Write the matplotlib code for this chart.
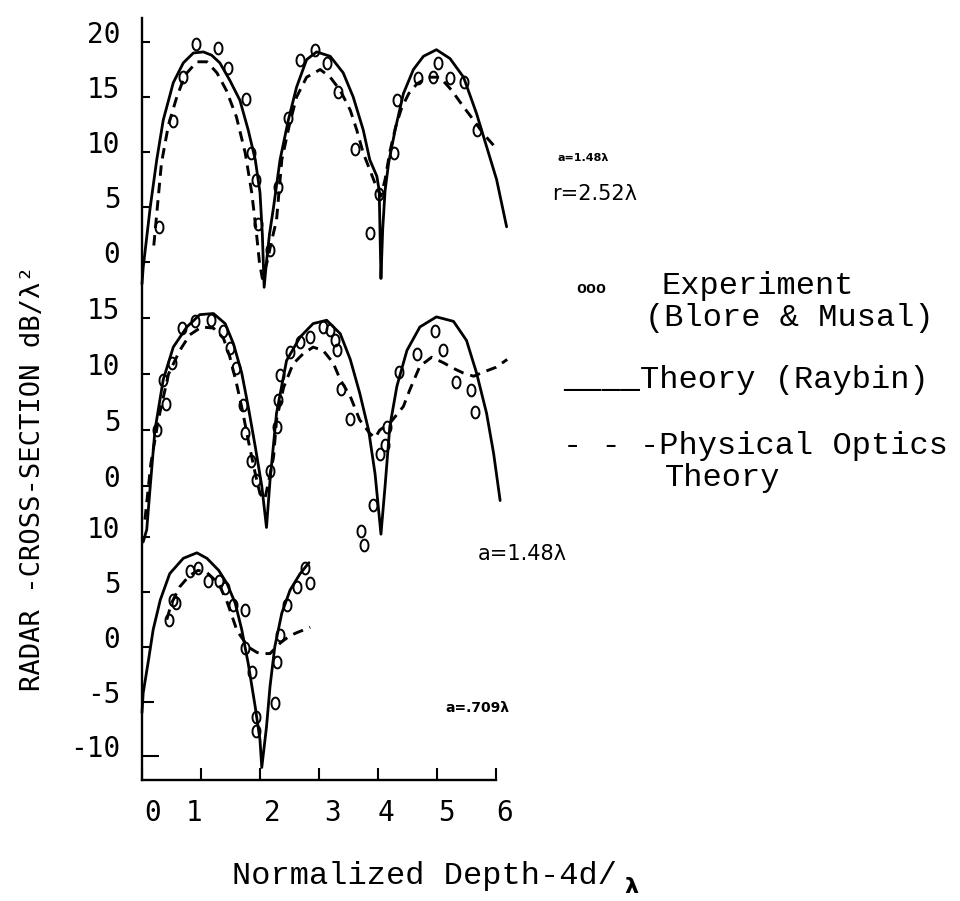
import numpy as np
import matplotlib.pyplot as plt
from matplotlib.path import Path
from matplotlib.transforms import ScaledTranslation

plt.rcParams['font.family'] = ['DejaVu Sans Mono']
plt.rcParams['axes.unicode_minus'] = False

# ================================================================
# Data: x = normalized depth 4d/lambda, y = RCS in dB/lambda^2
# ================================================================
# --- a = 1.48 lambda, r = 2.52 lambda (top) ---
top_theory_x = [0.00, 0.02, 0.14, 0.25, 0.36, 0.53, 0.70, 0.87, 1.04, 1.18, 1.32, 1.49,
                1.66, 1.80, 1.92, 2.00, 2.04, 2.07, 2.11, 2.16, 2.23, 2.34, 2.48, 2.62,
                2.79, 2.96, 3.19, 3.41, 3.58, 3.75, 3.86, 3.98, 4.02, 4.05, 4.08, 4.12,
                4.18, 4.29, 4.43, 4.60, 4.77, 4.99, 5.22, 5.45, 5.67, 5.84, 6.01, 6.18]
top_theory_y = [-2.0, -0.5, 5.0, 9.3, 12.9, 16.3, 18.1, 19.0, 19.1, 18.8, 18.1, 16.5,
                14.7, 12.0, 9.3, 6.3, 2.5, -2.3, 0.0, 2.5, 5.0, 9.3, 12.9, 15.9,
                18.4, 19.1, 18.7, 17.2, 15.0, 12.0, 9.3, 7.8, 6.5, -1.5, 3.0, 6.5,
                9.0, 12.0, 15.3, 17.5, 18.7, 19.3, 18.5, 16.8, 13.5, 10.5, 7.5, 3.2]
top_po_x = [0.20, 0.25, 0.33, 0.45, 0.59, 0.73, 0.93, 1.10, 1.27, 1.43, 1.60, 1.75,
            1.86, 1.94, 1.99, 2.04, 2.12, 2.20, 2.28, 2.37, 2.50, 2.62, 2.79, 3.02,
            3.19, 3.36, 3.53, 3.64, 3.75, 3.86, 3.96, 4.05, 4.12, 4.20, 4.30, 4.40,
            4.52, 4.66, 4.85, 5.05, 5.25, 5.45, 5.62, 5.78, 5.96]
top_po_y = [1.5, 4.4, 9.0, 12.5, 15.0, 17.0, 18.2, 18.2, 17.2, 15.6, 13.2, 9.9,
            6.3, 2.6, 0.0, -1.5, 0.0, 2.0, 3.8, 9.3, 12.5, 15.0, 16.8, 17.5,
            16.8, 15.6, 13.8, 12.0, 9.9, 8.4, 7.0, 6.0, 7.5, 10.0, 12.3, 14.0,
            15.3, 16.2, 16.8, 16.8, 15.6, 14.1, 12.9, 11.7, 10.6]
top_exp_x = [0.29, 0.53, 0.70, 0.91, 1.28, 1.46, 1.77, 1.84, 1.93, 1.97, 2.17, 2.31,
             2.47, 2.68, 2.93, 3.13, 3.33, 3.61, 3.86, 4.01, 4.27, 4.32, 4.68, 4.94,
             5.02, 5.22, 5.45, 5.67]
top_exp_y = [3.2, 12.8, 16.8, 19.8, 19.5, 17.6, 14.8, 9.9, 7.5, 3.5, 1.1, 6.8,
             13.1, 18.4, 19.3, 18.1, 15.5, 10.3, 2.6, 6.2, 9.9, 14.7, 16.7, 16.8,
             18.1, 16.7, 16.4, 12.0]

# --- a = 1.48 lambda (middle) ---
mid_theory_x = [0.02, 0.08, 0.14, 0.22, 0.36, 0.53, 0.76, 0.98, 1.21, 1.41, 1.55, 1.69,
                1.80, 1.92, 2.03, 2.11, 2.17, 2.28, 2.45, 2.68, 2.90, 3.13, 3.36, 3.53,
                3.69, 3.84, 3.95, 4.05, 4.12, 4.20, 4.32, 4.49, 4.71, 4.99, 5.28, 5.50,
                5.67, 5.84, 5.96, 6.07]
mid_theory_y = [-5.0, -3.9, 0.0, 5.0, 9.5, 12.4, 14.2, 15.3, 15.4, 14.5, 12.7, 10.1,
                7.1, 3.5, 0.0, -3.7, 0.5, 6.5, 11.2, 13.3, 14.5, 14.8, 13.6, 11.3,
                8.3, 5.0, 1.1, -4.3, 0.0, 5.3, 8.9, 12.1, 14.2, 15.1, 14.7, 13.0,
                10.1, 6.5, 2.9, -1.3]
mid_po_x = [0.05, 0.15, 0.28, 0.45, 0.64, 0.81, 1.01, 1.21, 1.38, 1.49, 1.60, 1.70,
            1.80, 1.92, 2.00, 2.08, 2.15, 2.23, 2.28, 2.40, 2.56, 2.73, 2.90, 3.07,
            3.24, 3.36, 3.53, 3.69, 3.86, 3.95, 4.03, 4.20, 4.43, 4.54, 4.71, 4.91,
            5.11, 5.28, 5.44, 5.62, 5.80, 6.00, 6.19]
mid_po_y = [-3.0, 2.0, 6.0, 10.0, 12.1, 13.5, 14.2, 14.1, 13.2, 11.5, 9.2, 6.8,
            4.1, 1.1, -0.7, -1.2, 0.5, 2.6, 5.9, 8.8, 10.9, 11.8, 12.4, 12.1,
            11.0, 9.5, 8.0, 5.9, 4.7, 4.3, 5.0, 5.6, 7.1, 8.6, 10.7, 11.5,
            11.0, 10.5, 10.1, 9.8, 10.2, 10.6, 11.3]
mid_exp_x = [0.25, 0.36, 0.41, 0.50, 0.67, 0.90, 1.17, 1.38, 1.49, 1.60, 1.72, 1.75,
             1.84, 1.94, 2.17, 2.28, 2.31, 2.34, 2.51, 2.68, 2.85, 3.07, 3.19, 3.27,
             3.30, 3.38, 3.53, 3.72, 3.76, 3.92, 4.03, 4.12, 4.15, 4.35, 4.66, 4.97,
             5.11, 5.33, 5.58, 5.64]
mid_exp_y = [5.0, 9.5, 7.3, 11.0, 14.1, 14.7, 14.8, 13.8, 12.3, 10.5, 7.2, 4.7,
             2.2, 0.5, 1.3, 5.3, 7.7, 9.9, 12.0, 12.9, 13.3, 14.2, 13.9, 13.0,
             12.1, 8.7, 6.0, -4.0, -5.3, -1.7, 2.9, 3.7, 5.3, 10.2, 11.8, 13.8,
             12.1, 9.3, 8.6, 6.6]

# --- a = .709 lambda (bottom) ---
bot_theory_x = [0.00, 0.02, 0.11, 0.19, 0.31, 0.47, 0.70, 0.93, 1.10, 1.30, 1.44, 1.58,
                1.69, 1.80, 1.92, 2.00, 2.03, 2.11, 2.17, 2.25, 2.37, 2.51, 2.68, 2.83]
bot_theory_y = [-6.0, -4.2, -1.2, 1.6, 4.3, 6.7, 8.1, 8.6, 8.1, 7.0, 5.8, 4.0,
                1.6, -1.5, -5.5, -8.5, -11.0, -7.3, -3.6, 0.0, 3.1, 5.2, 6.7, 7.7]
bot_po_x = [0.42, 0.50, 0.64, 0.80, 0.95, 1.10, 1.30, 1.45, 1.61, 1.80, 1.95, 2.03,
            2.17, 2.35, 2.50, 2.62, 2.85]
bot_po_y = [2.5, 4.0, 5.5, 6.5, 7.0, 6.8, 5.8, 4.0, 1.5, 0.0, -0.5, -0.6,
            -0.6, 0.4, 1.0, 1.3, 1.8]
bot_exp_x = [0.46, 0.53, 0.58, 0.81, 0.95, 1.12, 1.30, 1.41, 1.55, 1.75, 1.75, 1.86,
             1.94, 1.94, 2.25, 2.28, 2.34, 2.45, 2.62, 2.76, 2.85]
bot_exp_y = [2.5, 4.3, 4.0, 6.9, 7.2, 6.0, 6.0, 5.4, 3.8, 3.4, -0.1, -2.3,
             -6.4, -7.7, -5.1, -1.4, 1.1, 3.8, 5.5, 7.2, 5.8]

x_ticks = [0, 1, 2, 3, 4, 5, 6]
top_ticks = [0, 5, 10, 15, 20]
mid_ticks = [0, 5, 10, 15]
bot_ticks = [-10, -5, 0, 5, 10]

# ================================================================
# Layout (figure pixels, hand-drawn axis)
# ================================================================
W, H, DPI = 960, 901, 100
X0, X6 = 142, 496          # x = 0 and x = 6
AX_BOT, AX_TOP = 780, 18   # axis line / top of y spine

fig = plt.figure(figsize=(W / DPI, H / DPI), dpi=DPI, facecolor='white')

ax = fig.add_axes([X0 / W, 1 - AX_BOT / H, (X6 - X0) / W, (AX_BOT - AX_TOP) / H])
ax.set_xlim(0, 6); ax.set_ylim(0, 1)
ax.patch.set_alpha(0)
for s in ['top', 'right']:
    ax.spines[s].set_visible(False)
for s in ['left', 'bottom']:
    ax.spines[s].set_linewidth(1.7)
ax.set_yticks([])
ax.set_xticks(x_ticks)
ax.set_xticklabels([str(v) for v in x_ticks], fontsize=20)
ax.tick_params(axis='x', direction='in', length=8.5, width=1.5, pad=13.5)
for lab, dx in zip(ax.get_xticklabels(), [11, -7, 12, 14, 8, 9, 9]):
    lab.set_transform(lab.get_transform() + ScaledTranslation(dx / DPI, 0, fig.dpi_scale_trans))

# tall "0"-like open ellipse used for the measured points
t = np.linspace(0, 2 * np.pi, 40)
oval = Path(np.column_stack([0.68 * np.cos(t), np.sin(t)]))

dash = (0, (3.6, 2.4))


def panel(zero_px, px_per_db, lo, hi, ticks):
    bottom_px = zero_px - lo * px_per_db
    top_px = zero_px - hi * px_per_db
    a = fig.add_axes([X0 / W, 1 - bottom_px / H, (X6 - X0) / W, (bottom_px - top_px) / H])
    a.set_xlim(0, 6); a.set_ylim(lo, hi)
    a.patch.set_alpha(0)
    for s in a.spines.values():
        s.set_visible(False)
    a.set_xticks([])
    a.set_yticks(ticks)
    a.set_yticklabels([str(v) for v in ticks], fontsize=20)
    a.tick_params(axis='y', direction='in', length=6, width=1.5, pad=15.5)
    for lab in a.get_yticklabels():
        lab.set_transform(lab.get_transform() + ScaledTranslation(0, 10 / DPI, fig.dpi_scale_trans))
    return a


def draw(a, tx, ty, px, py, ex, ey):
    a.plot(tx, ty, color='black', lw=2.0, clip_on=False, solid_capstyle='round',
           solid_joinstyle='round')
    a.plot(px, py, color='black', lw=2.1, ls=dash, clip_on=False)
    a.plot(ex, ey, ls='none', marker=oval, ms=8.5, mfc='none', mec='black',
           mew=1.4, clip_on=False)


ax_top = panel(262, 11.0, -3, 21, top_ticks)
ax_mid = panel(486, 11.2, -5, 16, mid_ticks)
ax_bot = panel(647, 10.95, -12, 11, bot_ticks)

# longer tick marks at the bottom of the scale
for tk, v in zip(ax_bot.yaxis.get_major_ticks(), bot_ticks):
    if v == -10:
        tk.tick1line.set_markersize(12)
    elif v == -5:
        tk.tick1line.set_markersize(8.5)

draw(ax_top, top_theory_x, top_theory_y, top_po_x, top_po_y, top_exp_x, top_exp_y)
draw(ax_mid, mid_theory_x, mid_theory_y, mid_po_x, mid_po_y, mid_exp_x, mid_exp_y)
draw(ax_bot, bot_theory_x, bot_theory_y, bot_po_x, bot_po_y, bot_exp_x, bot_exp_y)

# ================================================================
# Text: axis titles, curve labels, typed legend
# ================================================================
def fx(px): return px / W
def fy(py): return 1 - py / H

mono = 'Liberation Mono'
fig.text(fx(33), fy(478), 'RADAR -CROSS-SECTION dB/λ²', rotation=90,
         ha='center', va='center', fontsize=19.5, family='DejaVu Sans Mono')
fig.text(fx(232), fy(884), 'Normalized Depth-4d/', ha='left', va='baseline',
         fontsize=23, family=mono)
fig.text(fx(624), fy(893), 'λ', ha='left', va='baseline', fontsize=16,
         family='DejaVu Sans', fontweight='bold')

fig.text(fx(557), fy(161), 'a=1.48λ', ha='left', va='baseline', fontsize=8,
         family='DejaVu Sans', fontweight='bold')
fig.text(fx(552), fy(200), 'r=2.52λ', ha='left', va='baseline', fontsize=15,
         family='DejaVu Sans')
fig.text(fx(478), fy(560), 'a=1.48λ', ha='left', va='baseline', fontsize=15,
         family='DejaVu Sans')
fig.text(fx(445), fy(712), 'a=.709λ', ha='left', va='baseline', fontsize=10,
         family='DejaVu Sans', fontweight='bold')

fig.text(fx(576), fy(293), 'ooo', ha='left', va='baseline', fontsize=12,
         family=mono, fontweight='bold')
fig.text(fx(662), fy(294), 'Experiment', ha='left', va='baseline', fontsize=23, family=mono)
fig.text(fx(645), fy(326), '(Blore & Musal)', ha='left', va='baseline', fontsize=23, family=mono)
fig.text(fx(563), fy(388), '____Theory (Raybin)', ha='left', va='baseline', fontsize=23, family=mono)
fig.text(fx(563), fy(454), '- - -Physical Optics', ha='left', va='baseline', fontsize=23, family=mono)
fig.text(fx(665), fy(486), 'Theory', ha='left', va='baseline', fontsize=23, family=mono)

fig.savefig('out.png', dpi=DPI, facecolor='white')
